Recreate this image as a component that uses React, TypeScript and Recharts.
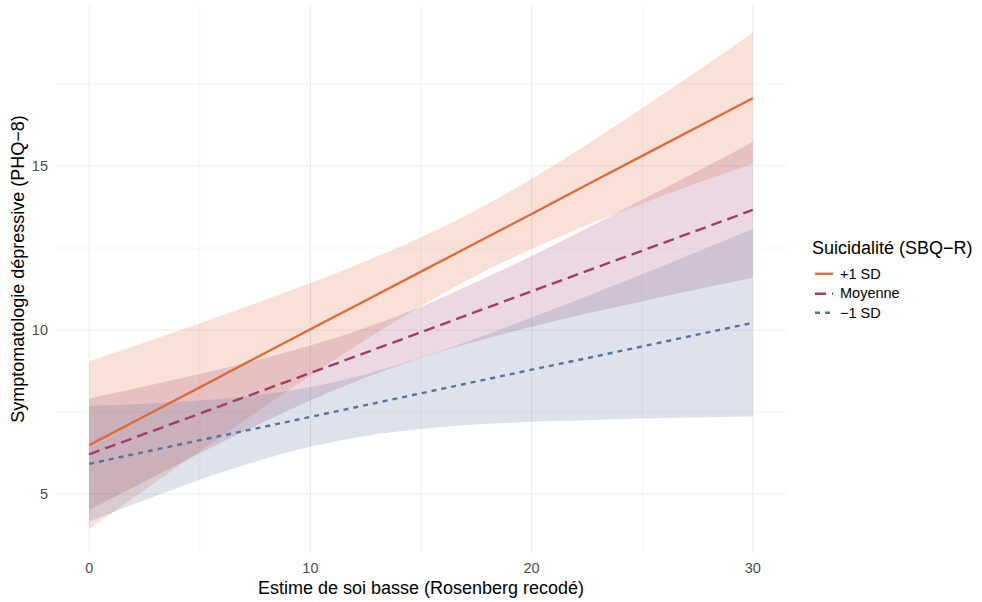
import React from "react";
import { ComposedChart, Area, Line, XAxis, YAxis, CartesianGrid } from "recharts";

// Grid of Rosenberg scores where predictions are drawn
const rosenberg = [0, 2.5, 5, 7.5, 10, 12.5, 15, 17.5, 20, 22.5, 25, 27.5, 30];

// +1 SD suicidality: predicted PHQ-8 and 95% band
const plusFit = [6.49, 7.37, 8.25, 9.14, 10.02, 10.9, 11.78, 12.66, 13.54, 14.43, 15.31, 16.19, 17.07];
const plusLow = [3.93, 5.12, 6.3, 7.47, 8.61, 9.7, 10.73, 11.66, 12.47, 13.2, 13.86, 14.48, 15.07];
const plusHigh = [9.05, 9.62, 10.2, 10.81, 11.43, 12.1, 12.83, 13.66, 14.61, 15.66, 16.76, 17.9, 19.07];

// Mean suicidality
const meanFit = [6.21, 6.83, 7.45, 8.07, 8.69, 9.31, 9.93, 10.56, 11.18, 11.8, 12.42, 13.04, 13.66];
const meanLow = [4.51, 5.38, 6.24, 7.07, 7.85, 8.55, 9.15, 9.66, 10.1, 10.5, 10.87, 11.24, 11.59];
const meanHigh = [7.91, 8.28, 8.66, 9.07, 9.53, 10.07, 10.71, 11.46, 12.26, 13.1, 13.97, 14.84, 15.73];

// -1 SD suicidality
const minusFit = [5.92, 6.28, 6.64, 6.99, 7.35, 7.71, 8.07, 8.43, 8.79, 9.14, 9.5, 9.86, 10.22];
const minusLow = [4.16, 4.81, 5.43, 5.98, 6.44, 6.77, 6.98, 7.12, 7.2, 7.25, 7.3, 7.33, 7.36];
const minusHigh = [7.68, 7.75, 7.85, 8.0, 8.26, 8.65, 9.16, 9.74, 10.38, 11.03, 11.7, 12.39, 13.08];

const xTicks = [0, 10, 20, 30];
const yTicks = [5, 10, 15];
const xMinor = [5, 15, 25];
const yMinor = [7.5, 12.5, 17.5];

const legendTitle = "Suicidalité (SBQ−R)";
const legendLabels = ["+1 SD", "Moyenne", "−1 SD"];
const xTitle = "Estime de soi basse (Rosenberg recodé)";
const yTitle = "Symptomatologie dépressive (PHQ−8)";

const COLORS = ["#E06A35", "#A03C6E", "#5A739B"];
const DASHES = ["", "11 6", "5 5"];

const rows = rosenberg.map((x, i) => ({
  x,
  plusFit: plusFit[i],
  plusBand: [plusLow[i], plusHigh[i]],
  meanFit: meanFit[i],
  meanBand: [meanLow[i], meanHigh[i]],
  minusFit: minusFit[i],
  minusBand: [minusLow[i], minusHigh[i]],
}));

const FONT = "'Liberation Sans', Arial, Helvetica, sans-serif";
const TICK_SIZE = 14.5;
const TITLE_SIZE = 18;

const XTick = (props: any) => {
  const { x, payload } = props;
  return (
    <text x={x} y={568} textAnchor="middle" dominantBaseline="central" fontFamily={FONT} fontSize={TICK_SIZE} fill="#4D4D4D">
      {payload.value}
    </text>
  );
};

const YTick = (props: any) => {
  const { y, payload } = props;
  return (
    <text x={48} y={y} textAnchor="end" dominantBaseline="central" fontFamily={FONT} fontSize={TICK_SIZE} fill="#4D4D4D">
      {payload.value}
    </text>
  );
};

export default function App() {
  return (
    <div style={{ position: "absolute", left: 0, top: 0, width: 982, height: 602, background: "#fff", fontFamily: FONT }}>
      <ComposedChart width={982} height={602} data={rows} margin={{ top: 6, right: 196, left: 0, bottom: 0 }}>
        <CartesianGrid stroke="#EBEBEB" strokeWidth={0.55} horizontalValues={yMinor} verticalValues={xMinor} />
        <CartesianGrid stroke="#EBEBEB" strokeWidth={1.1} horizontalValues={yTicks} verticalValues={xTicks} />
        <XAxis
          type="number"
          dataKey="x"
          domain={[-1.5, 31.5]}
          ticks={xTicks}
          axisLine={false}
          tickLine={false}
          height={49}
          tick={<XTick />}
          allowDataOverflow
        />
        <YAxis
          type="number"
          domain={[3.2, 19.88]}
          ticks={yTicks}
          axisLine={false}
          tickLine={false}
          width={56}
          tick={<YTick />}
          allowDataOverflow
        />
        <Area dataKey="plusBand" type="monotone" stroke="none" fill={COLORS[0]} fillOpacity={0.2} isAnimationActive={false} />
        <Area dataKey="meanBand" type="monotone" stroke="none" fill={COLORS[1]} fillOpacity={0.2} isAnimationActive={false} />
        <Area dataKey="minusBand" type="monotone" stroke="none" fill={COLORS[2]} fillOpacity={0.2} isAnimationActive={false} />
        <Line dataKey="plusFit" type="linear" stroke={COLORS[0]} strokeWidth={2.3} dot={false} activeDot={false} isAnimationActive={false} />
        <Line dataKey="meanFit" type="linear" stroke={COLORS[1]} strokeWidth={2.4} strokeDasharray={DASHES[1]} dot={false} activeDot={false} isAnimationActive={false} />
        <Line dataKey="minusFit" type="linear" stroke={COLORS[2]} strokeWidth={2.4} strokeDasharray={DASHES[2]} dot={false} activeDot={false} isAnimationActive={false} />
      </ComposedChart>

      <div style={{ position: "absolute", left: 421, top: 588, transform: "translate(-50%, -50%)", fontSize: TITLE_SIZE, color: "#000", whiteSpace: "nowrap" }}>
        {xTitle}
      </div>
      <div style={{ position: "absolute", left: 18, top: 269, transform: "translate(-50%, -50%) rotate(-90deg)", fontSize: TITLE_SIZE, color: "#000", whiteSpace: "nowrap" }}>
        {yTitle}
      </div>

      <div style={{ position: "absolute", left: 812, top: 237, fontSize: TITLE_SIZE, color: "#000", whiteSpace: "nowrap", lineHeight: "22px" }}>
        {legendTitle}
      </div>
      {legendLabels.map((label, i) => (
        <div key={label} style={{ position: "absolute", left: 813, top: 264 + i * 19.5, height: 19.5, display: "flex", alignItems: "center", whiteSpace: "nowrap" }}>
          <svg width={22} height={19.5} style={{ display: "block" }}>
            <line x1={2} x2={20} y1={9.75} y2={9.75} stroke={COLORS[i]} strokeWidth={2.3} strokeDasharray={DASHES[i] || undefined} />
          </svg>
          <span style={{ marginLeft: 5, fontSize: TICK_SIZE, color: "#000" }}>{label}</span>
        </div>
      ))}
    </div>
  );
}
